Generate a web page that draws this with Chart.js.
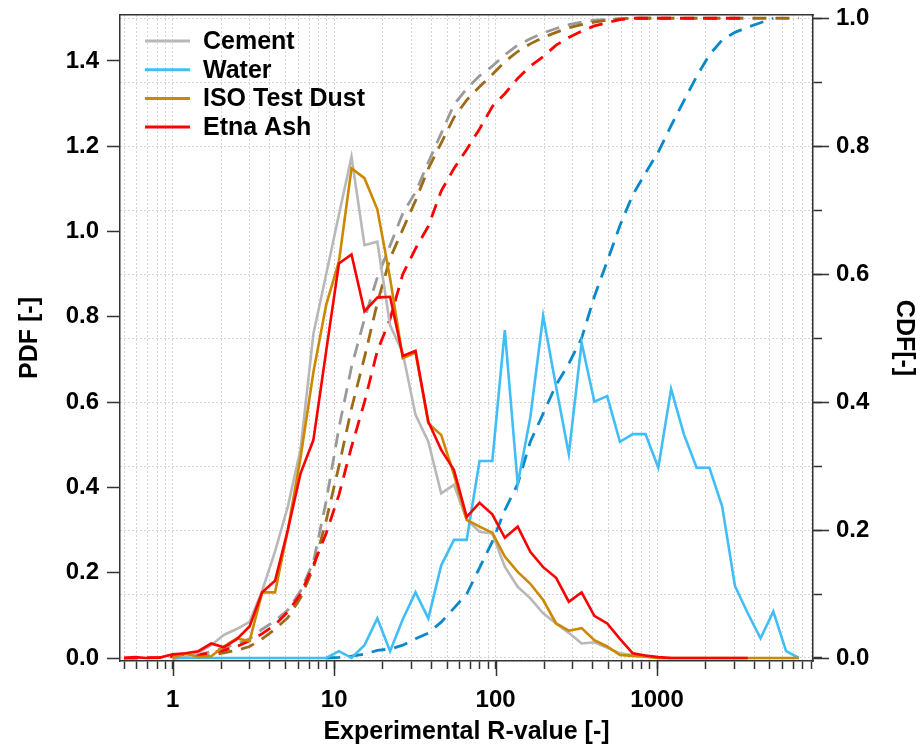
<!DOCTYPE html>
<html>
<head>
<meta charset="utf-8">
<script src="https://cdn.jsdelivr.net/npm/chart.js@4.4.1/dist/chart.umd.min.js"></script>
<style>
  html, body { margin: 0; padding: 0; background: #fff; }
</style>
</head>
<body>
<canvas id="chart" width="916" height="747"></canvas>
<script>
// bin centres (R-value)
const rValues = [0.5, 0.58, 0.69, 0.83, 1.0, 1.2, 1.44, 1.73, 2.07, 2.49, 2.99, 3.58, 4.3, 5.16,
  6.19, 7.43, 8.92, 10.7, 12.8, 15.4, 18.5, 22.2, 26.6, 31.9, 38.3, 46.0, 55.2, 66.2, 79.5, 95.4,
  114, 137, 164, 197, 237, 284, 341, 409, 491, 589, 707, 848, 1018, 1222, 1466, 1759, 2111, 2533,
  3040, 3648, 4378, 5253, 6304, 7565];

// PDF series (left axis)
const cementPdf = [null, null, null, null, 0, 0.003, 0.012, 0.03, 0.054, 0.068, 0.085, 0.158, 0.25, 0.355,
  0.49, 0.76, 0.90, 1.04, 1.175, 0.968, 0.976, 0.78, 0.715, 0.57, 0.507, 0.386, 0.406, 0.324, 0.296, 0.292,
  0.214, 0.167, 0.14, 0.105, 0.081, 0.059, 0.034, 0.037, 0.024, 0.011, 0.007, 0.005, 0, 0, null, null, null, null,
  null, null, null, null, null, null];
const waterPdf = [null, null, null, null, 0, 0, 0, 0, 0, 0, 0, 0, 0, 0,
  0, 0, 0, 0.016, 0, 0.03, 0.093, 0.016, 0.091, 0.154, 0.093, 0.217, 0.277, 0.277, 0.462, 0.462,
  0.769, 0.408, 0.564, 0.802, 0.636, 0.478, 0.739, 0.601, 0.614, 0.507, 0.525, 0.525, 0.446, 0.631, 0.525, 0.446, 0.446, 0.355,
  0.169, 0.105, 0.046, 0.109, 0.016, 0];
const isoPdf = [null, null, null, null, 0, 0.011, 0.002, 0.004, 0.027, 0.046, 0.04, 0.154, 0.154, 0.30,
  0.47, 0.67, 0.828, 0.93, 1.148, 1.125, 1.052, 0.89, 0.703, 0.716, 0.55, 0.523, 0.43, 0.324, 0.308, 0.294,
  0.238, 0.202, 0.174, 0.136, 0.081, 0.064, 0.07, 0.042, 0.027, 0.007, 0.005, 0.003, 0, 0, 0, 0, 0, 0,
  0, 0, 0, 0, 0, 0];
const etnaPdf = [0, 0.002, 0, 0.001, 0.009, 0.011, 0.016, 0.034, 0.025, 0.044, 0.074, 0.154, 0.181, 0.30,
  0.433, 0.511, 0.72, 0.925, 0.946, 0.813, 0.845, 0.847, 0.708, 0.72, 0.554, 0.488, 0.441, 0.331, 0.364, 0.337,
  0.282, 0.308, 0.249, 0.213, 0.188, 0.132, 0.154, 0.099, 0.081, 0.045, 0.011, 0.006, 0.002, 0, 0, 0, 0, 0,
  0, 0, null, null, null, null];

// CDF series (right axis)
const cementCdf = [null, null, null, null, 0, 0.002, 0.005, 0.01, 0.016, 0.022, 0.03, 0.045, 0.058, 0.075,
  0.105, 0.15, 0.245, 0.36, 0.455, 0.53, 0.595, 0.645, 0.695, 0.728, 0.775, 0.82, 0.865, 0.89, 0.91, 0.925,
  0.943, 0.958, 0.968, 0.977, 0.984, 0.99, 0.994, 0.997, 0.998, 0.999, 1, 1, 1, 1, null, null, null, null,
  null, null, null, null, null, null];
const waterCdf = [null, null, null, null, null, null, null, null, null, null, null, null, null, null,
  null, null, 0, 0.001, 0.003, 0.006, 0.012, 0.014, 0.02, 0.03, 0.039, 0.056, 0.078, 0.10, 0.141, 0.182,
  0.231, 0.272, 0.338, 0.382, 0.427, 0.46, 0.50, 0.565, 0.62, 0.676, 0.724, 0.758, 0.791, 0.832, 0.871, 0.909, 0.943, 0.966,
  0.978, 0.986, 0.993, 1.0, null, null];
const isoCdf = [null, null, null, null, 0, 0.001, 0.002, 0.004, 0.008, 0.012, 0.018, 0.03, 0.045, 0.063,
  0.094, 0.14, 0.215, 0.30, 0.39, 0.47, 0.555, 0.625, 0.67, 0.715, 0.765, 0.805, 0.845, 0.872, 0.893, 0.912,
  0.932, 0.948, 0.96, 0.97, 0.978, 0.985, 0.99, 0.994, 0.997, 0.999, 1, 1, 1, 1, 1, 1, 1, 1,
  1, 1, 1, 1, 1, 1];
const etnaCdf = [0, 0, 0.0005, 0.001, 0.002, 0.003, 0.005, 0.008, 0.012, 0.018, 0.027, 0.038, 0.052, 0.072,
  0.10, 0.145, 0.195, 0.255, 0.33, 0.40, 0.48, 0.53, 0.60, 0.64, 0.675, 0.73, 0.765, 0.795, 0.827, 0.862,
  0.882, 0.906, 0.925, 0.94, 0.958, 0.97, 0.98, 0.988, 0.993, 0.998, 1, 1, 1, 1, 1, 1, 1, 1,
  1, 1, null, null, null, null];

// ticks
const xTickValues = [0.5, 0.6, 0.7, 0.8, 0.9, 1, 2, 3, 4, 5, 6, 7, 8, 9, 10, 20, 30, 40, 50, 60, 70, 80, 90,
  100, 200, 300, 400, 500, 600, 700, 800, 900, 1000, 2000, 3000, 4000, 5000, 6000, 7000, 8000, 9000];
const xLabelValues = [1, 10, 100, 1000];
const pdfTicks = [0, 0.2, 0.4, 0.6, 0.8, 1.0, 1.2, 1.4];
const cdfTicks = [0, 0.1, 0.2, 0.3, 0.4, 0.5, 0.6, 0.7, 0.8, 0.9, 1.0];
const cdfLabelTicks = [0, 0.2, 0.4, 0.6, 0.8, 1.0];

const FONT = "'Liberation Sans', Arial, sans-serif";
Chart.defaults.font.family = FONT;
const tickFont = { family: FONT, weight: 'bold', size: 24 };
const titleFont = { family: FONT, weight: 'bold', size: 25 };
const frameColor = '#333';
const gridColor = '#d6d6d6';

const points = (ys) => rValues.map((x, i) => ({ x: x, y: ys[i] }));

function pdfSet(label, ys, color, order) {
  return { label: label, data: points(ys), borderColor: color, borderWidth: 2.6,
    pointRadius: 0, tension: 0, yAxisID: 'y', order: order, isPdf: true };
}
function cdfSet(label, ys, color, order) {
  return { label: label, data: points(ys), borderColor: color, borderWidth: 2.8, borderDash: [14, 9],
    pointRadius: 0, tension: 0, yAxisID: 'y1', order: order };
}

// keep the plot box fixed: no extra room for labels at the axis ends
function fixBox(size) {
  return s => {
    if (size.width !== undefined) s.width = size.width;
    if (size.height !== undefined) s.height = size.height;
    s.paddingTop = 0; s.paddingBottom = 0; s.paddingLeft = 0; s.paddingRight = 0;
  };
}

// legend drawn inside the plot, top left
const insideLegend = {
  id: 'insideLegend',
  afterDraw(chart) {
    const { ctx, chartArea } = chart;
    const sets = chart.data.datasets.filter(d => d.isPdf);
    ctx.save();
    ctx.font = 'bold 25px ' + FONT;
    ctx.textBaseline = 'middle';
    ctx.textAlign = 'left';
    sets.forEach((ds, i) => {
      const y = chartArea.top + 26 + i * 28.7;
      ctx.strokeStyle = ds.borderColor;
      ctx.lineWidth = 3;
      ctx.beginPath();
      ctx.moveTo(chartArea.left + 25, y);
      ctx.lineTo(chartArea.left + 70, y);
      ctx.stroke();
      ctx.fillStyle = '#000';
      ctx.fillText(ds.label, chartArea.left + 83, y + 1);
    });
    ctx.restore();
  }
};

// longer tick marks for the decades and the labelled CDF values
const majorTicks = {
  id: 'majorTicks',
  afterDraw(chart) {
    const { ctx, chartArea } = chart;
    const x = chart.scales.x, y1 = chart.scales.y1;
    ctx.save();
    ctx.strokeStyle = frameColor;
    ctx.lineWidth = 1.5;
    ctx.beginPath();
    xLabelValues.forEach(v => {
      const px = Math.round(x.getPixelForValue(v)) + 0.5;
      ctx.moveTo(px, chartArea.bottom);
      ctx.lineTo(px, chartArea.bottom + 15);
    });
    cdfLabelTicks.forEach(v => {
      const py = Math.round(y1.getPixelForValue(v)) + 0.5;
      ctx.moveTo(chartArea.right, py);
      ctx.lineTo(chartArea.right + 16, py);
    });
    ctx.stroke();
    ctx.restore();
  }
};

new Chart(document.getElementById('chart'), {
  type: 'line',
  data: {
    datasets: [
      pdfSet('Cement', cementPdf, '#b8b8b8', 3),
      pdfSet('Water', waterPdf, '#41bdf7', 2),
      pdfSet('ISO Test Dust', isoPdf, '#cc8800', 1),
      pdfSet('Etna Ash', etnaPdf, '#ff0000', 0),
      cdfSet('Cement CDF', cementCdf, '#9a9a9a', 7),
      cdfSet('Water CDF', waterCdf, '#0a88c9', 4),
      cdfSet('ISO Test Dust CDF', isoCdf, '#9c6b16', 6),
      cdfSet('Etna Ash CDF', etnaCdf, '#ff0000', 5)
    ]
  },
  options: {
    responsive: false,
    animation: false,
    devicePixelRatio: 1,
    layout: { padding: 0 },
    plugins: { legend: { display: false }, tooltip: { enabled: false } },
    scales: {
      x: {
        type: 'logarithmic', position: 'bottom', min: 0.471, max: 9250, bounds: 'data',
        afterBuildTicks: s => { s.ticks = xTickValues.map(v => ({ value: v })); },
        afterFit: fixBox({ height: 86 }),
        ticks: { autoSkip: false, maxRotation: 0, minRotation: 0, padding: 17, color: '#000', font: tickFont,
          callback: v => xLabelValues.includes(v) ? String(v) : '' },
        grid: { color: gridColor, lineWidth: 1, drawTicks: true, tickLength: 8, tickColor: frameColor, tickWidth: 1.5, tickBorderDash: [] },
        border: { color: frameColor, width: 1.5, dash: [2, 2] },
        title: { display: true, text: 'Experimental R-value [-]', color: '#000', font: titleFont, padding: { top: 0, bottom: 0 } }
      },
      xTop: {
        type: 'logarithmic', position: 'top', min: 0.471, max: 9250, bounds: 'data',
        afterFit: fixBox({ height: 15 }),
        ticks: { display: false },
        grid: { display: false },
        border: { color: frameColor, width: 1.5 }
      },
      y: {
        position: 'left', min: -0.007, max: 1.5076, bounds: 'data',
        afterBuildTicks: s => { s.ticks = pdfTicks.map(v => ({ value: v })); },
        afterFit: fixBox({ width: 120 }),
        ticks: { padding: 8, color: '#000', font: tickFont, callback: v => v.toFixed(1) },
        grid: { drawOnChartArea: false, drawTicks: true, tickLength: 13, tickColor: frameColor, tickWidth: 1.5 },
        border: { color: frameColor, width: 1.5 },
        title: { display: true, text: 'PDF [-]', color: '#000', font: titleFont, padding: { top: 15, bottom: 0 } }
      },
      y1: {
        position: 'right', min: -0.0047, max: 1.0051, bounds: 'data',
        afterBuildTicks: s => { s.ticks = cdfTicks.map(v => ({ value: v })); },
        afterFit: fixBox({ width: 103 }),
        ticks: { padding: 14, color: '#000', font: tickFont,
          callback: v => (Math.round(v * 10) % 2 === 0) ? v.toFixed(1) : '' },
        grid: { drawOnChartArea: true, color: gridColor, lineWidth: 1, drawTicks: true, tickLength: 9, tickColor: frameColor, tickWidth: 1.5, tickBorderDash: [] },
        border: { color: frameColor, width: 1.5, dash: [2, 2] },
        title: { display: true, text: 'CDF[-]', color: '#000', font: { family: FONT, weight: 'bold', size: 25, lineHeight: 1 }, padding: { top: 0, bottom: 0 } }
      }
    }
  },
  plugins: [insideLegend, majorTicks]
});
</script>
</body>
</html>
